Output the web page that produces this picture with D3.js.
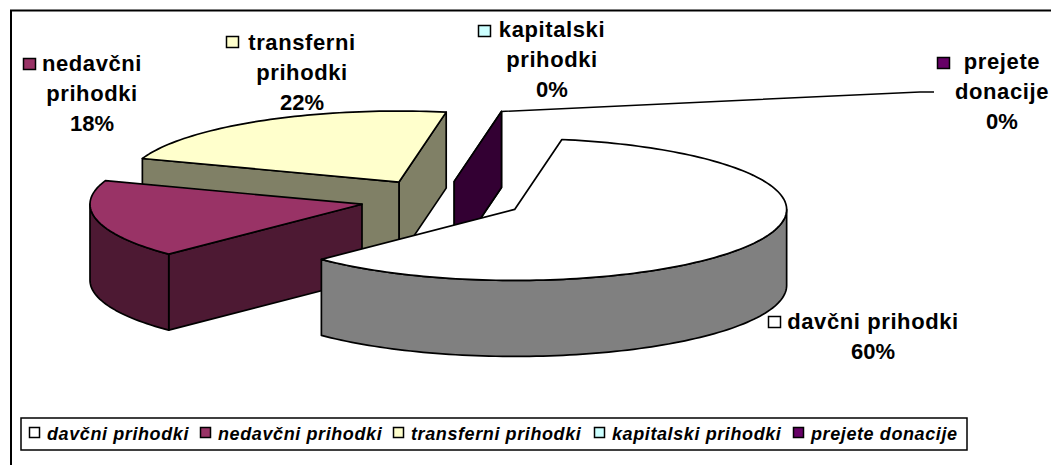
<!DOCTYPE html>
<html><head><meta charset="utf-8">
<script src="https://cdnjs.cloudflare.com/ajax/libs/d3/7.8.5/d3.min.js"></script>
<style>html,body{margin:0;padding:0;background:#fff}svg{display:block}
text{font-family:"Liberation Sans",Arial,sans-serif;font-weight:700;fill:#000}</style></head>
<body><svg id="c" width="1051" height="465"></svg>
<script>
// data
const categories = ["davčni prihodki","nedavčni prihodki","transferni prihodki","kapitalski prihodki","prejete donacije"];
const values = [59.8,17.8,22.4,0.001,0.001];
const percentLabels = ["60%","18%","22%","0%","0%"];
const labelLines = [["davčni prihodki"],["nedavčni","prihodki"],["transferni","prihodki"],["kapitalski","prihodki"],["prejete","donacije"]];
const topColors = ["#FFFFFF","#993366","#FFFFCC","#CCFFFF","#660066"];
const sideColors = ["#808080","#4D1933","#808066","#666680","#330033"];

// layout
const svg=d3.select("#c");
const rx=272, ry=71, depth=76;
const cx=442, cy=199.5;
const explode=[1,1,0.97,0.86,0.86].map(f=>f*82/272);
const explodeNudge=[0,0,-2.4,0,0].map(d=>d*Math.PI/180);
const startAngle=10*Math.PI/180;
const X=d3.scaleLinear().domain([-1,1]).range([cx-rx,cx+rx]);
const Y=d3.scaleLinear().domain([-1,1]).range([cy-ry,cy+ry]);

svg.append("path").attr("d","M11,465V10.5H1051").attr("fill","none").attr("stroke","#000").attr("stroke-width",2);

const arcs=d3.pie().sort(null).startAngle(startAngle).endAngle(startAngle+2*Math.PI)(values);
const slices=arcs.map((a,i)=>{
  const mid=(a.startAngle+a.endAngle)/2+explodeNudge[i];
  const ox=explode[i]*Math.sin(mid), oy=-explode[i]*Math.cos(mid);
  const pt=(t,d=0)=>[X(ox+Math.sin(t)),Y(oy-Math.cos(t))+d];
  return {i,a,pt,apex:d=>[X(ox),Y(oy)+d]};
});
const line=d3.line();
function arcPts(s,t0,t1,d){const n=Math.max(2,Math.ceil(Math.abs(t1-t0)*40));return d3.range(n+1).map(k=>s.pt(t0+(t1-t0)*k/n,d));}
const strokeW=1.7;
function poly(pts,fill){svg.append("path").attr("d",line(pts)+"Z").attr("fill",fill).attr("stroke","#000").attr("stroke-width",strokeW).attr("stroke-linejoin","round");}

// paint order: back slices first
[2,3,4,1,0].forEach(i=>{
  const s=slices[i],t0=s.a.startAngle,t1=s.a.endAngle,side=sideColors[i];
  if(i===2||i===3||i===4){ // face at end angle, seen from the front
    poly([s.apex(0),s.pt(t1,0),s.pt(t1,depth),s.apex(depth)],side);
  }
  if(i===2||i===1){
    poly([s.apex(0),s.pt(t0,0),s.pt(t0,depth),s.apex(depth)],side);
  }
  // outer rim: the front half of the ellipse only
  const lo=Math.max(t0,Math.PI/2), hi=Math.min(t1,3*Math.PI/2);
  if(hi>lo){poly(arcPts(s,lo,hi,0).concat(arcPts(s,hi,lo,depth)),side);}
  // top
  if(s.a.value>1) poly([s.apex(0)].concat(arcPts(s,t0,t1,0)),topColors[i]);
});

// leader line
const zero=slices[4];
svg.append("path").attr("d",line([zero.pt(zero.a.endAngle,0),[920,92],[934,92]])).attr("fill","none").attr("stroke","#000").attr("stroke-width",1.5);

// data labels
const fs=22, ls=0.6;
const labelPos=[{x:873,y:329,sw:[768,322]},{x:92,y:71,sw:[23,64]},{x:302,y:50,sw:[226,42]},{x:552,y:37,sw:[478,31]},{x:1002,y:69,sw:[937,63]}];
labelLines.forEach((lines,i)=>{
  const p=labelPos[i];
  lines.concat([percentLabels[i]]).forEach((t,k)=>{
    svg.append("text").attr("x",p.x).attr("y",p.y+k*30).attr("text-anchor","middle")
      .attr("font-size",fs).attr("letter-spacing",k===lines.length?0:ls).text(t);
  });
  svg.append("rect").attr("x",p.sw[0]+.5).attr("y",p.sw[1]-5.5).attr("width",12).attr("height",11)
    .attr("fill",topColors[i]).attr("stroke","#000").attr("stroke-width",1.5);
});

// legend
svg.append("rect").attr("x",21).attr("y",418).attr("width",946).attr("height",32).attr("fill","#fff").attr("stroke","#000").attr("stroke-width",1.5);
const legendX=[29,200,393,594,793];
categories.forEach((c,i)=>{
  svg.append("rect").attr("x",legendX[i]+.5).attr("y",427.5).attr("width",10).attr("height",10).attr("fill",topColors[i]).attr("stroke","#000").attr("stroke-width",1.5);
  svg.append("text").attr("x",legendX[i]+18).attr("y",440).attr("font-size",18).attr("font-style","italic").attr("letter-spacing",0.6).text(c);
});
</script></body></html>
